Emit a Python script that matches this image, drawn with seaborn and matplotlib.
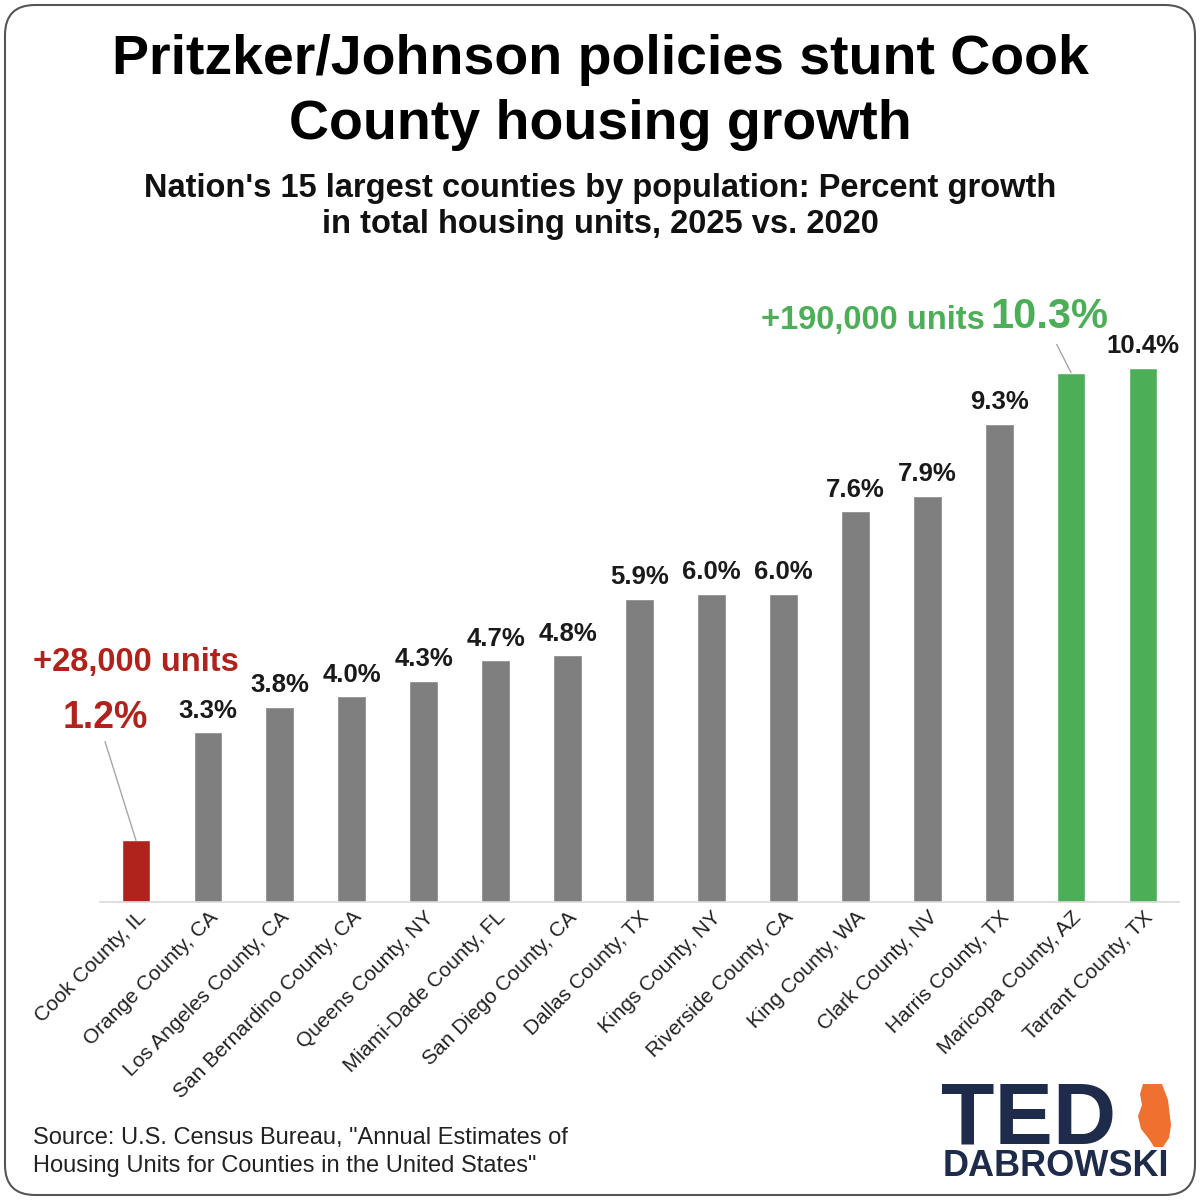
import matplotlib
matplotlib.use("Agg")
import matplotlib.pyplot as plt
from matplotlib.patches import FancyBboxPatch, Polygon
import pandas as pd
import seaborn as sns

counties = ["Cook County, IL", "Orange County, CA", "Los Angeles County, CA",
            "San Bernardino County, CA", "Queens County, NY", "Miami-Dade County, FL",
            "San Diego County, CA", "Dallas County, TX", "Kings County, NY",
            "Riverside County, CA", "King County, WA", "Clark County, NV",
            "Harris County, TX", "Maricopa County, AZ", "Tarrant County, TX"]
growth = [1.2, 3.3, 3.8, 4.0, 4.3, 4.7, 4.8, 5.9, 6.0, 6.0, 7.6, 7.9, 9.3, 10.3, 10.4]
labels = ["1.2%", "3.3%", "3.8%", "4.0%", "4.3%", "4.7%", "4.8%", "5.9%", "6.0%",
          "6.0%", "7.6%", "7.9%", "9.3%", "10.3%", "10.4%"]

RED = "#b0231c"
GRAY = "#7f7f7f"
GREEN = "#4caf58"
colors = [RED] + [GRAY] * 12 + [GREEN, GREEN]

df = pd.DataFrame({"county": counties, "growth": growth})

sns.set_theme(style="white")
plt.rcParams["font.family"] = ["Liberation Sans", "DejaVu Sans"]

fig = plt.figure(figsize=(12, 12), dpi=100)
ax = fig.add_axes([100 / 1200, 1 - 902 / 1200, 1079 / 1200, 591 / 1200])

sns.barplot(data=df, x="county", y="growth", hue="county", palette=colors,
            legend=False, width=0.4, saturation=1, ax=ax)
ax.set_xlim(-0.5, 14.5)
ax.set_ylim(0, 11.5)
ax.set_xlabel("")
ax.set_ylabel("")
ax.set_yticks([])
sns.despine(ax=ax, left=True)
ax.spines["bottom"].set_color("#d9d9d9")
ax.spines["bottom"].set_linewidth(1.2)
ax.tick_params(axis="x", length=0, pad=4)
ax.set_xticks(range(len(counties)))
ax.set_xticklabels(counties, rotation=45, ha="right", rotation_mode="anchor",
                   fontsize=15, color="#222222")

# value labels above the plain bars
for i, (v, lab) in enumerate(zip(growth, labels)):
    if i in (0, 13):
        continue
    ax.annotate(lab, (i, v), xytext=(0, 7), textcoords="offset points",
                ha="center", va="bottom", fontsize=18.5, fontweight="bold",
                color="#1a1a1a")

# Cook County callout
ax.text(0, 4.67, "+28,000 units", ha="center", va="center", fontsize=23.5,
        fontweight="bold", color=RED)
ax.text(-0.43, 3.58, labels[0], ha="center", va="center", fontsize=27,
        fontweight="bold", color=RED)
ax.plot([-0.43, 0.0], [3.12, growth[0]], color="#a6a6a6", lw=1, clip_on=False)

# Maricopa callout
ax.text(10.25, 11.32, "+190,000 units", ha="center", va="center", fontsize=23.5,
        fontweight="bold", color=GREEN, clip_on=False)
ax.text(12.7, 11.38, labels[13], ha="center", va="center", fontsize=30,
        fontweight="bold", color=GREEN, clip_on=False)
ax.plot([12.8, 13.0], [10.85, growth[13]], color="#a6a6a6", lw=1, clip_on=False)

# titles
fig.text(0.5, 1 - 60 / 1200, "Pritzker/Johnson policies stunt Cook", ha="center",
         va="center", fontsize=40, fontweight="bold", color="black")
fig.text(0.5, 1 - 125 / 1200, "County housing growth", ha="center",
         va="center", fontsize=40, fontweight="bold", color="black")
fig.text(0.5, 1 - 188 / 1200, "Nation's 15 largest counties by population: Percent growth",
         ha="center", va="center", fontsize=23.5, fontweight="bold", color="#111111")
fig.text(0.5, 1 - 225 / 1200, "in total housing units, 2025 vs. 2020",
         ha="center", va="center", fontsize=23.5, fontweight="bold", color="#111111")

# source
fig.text(33 / 1200, 1 - 1138 / 1200, "Source: U.S. Census Bureau, \"Annual Estimates of",
         ha="left", va="center", fontsize=17, color="#222222")
fig.text(33 / 1200, 1 - 1166 / 1200, "Housing Units for Counties in the United States\"",
         ha="left", va="center", fontsize=17, color="#222222")

# logo
NAVY = "#1f2b4a"
fig.text(941 / 1200, 1 - 1144 / 1200, "TED", ha="left", va="baseline", fontsize=63,
         fontweight="bold", color=NAVY)
fig.text(943 / 1200, 1 - 1176 / 1200, "DABROWSKI", ha="left", va="baseline",
         fontsize=26, fontweight="bold", color=NAVY)
ill = [(1143, 1084), (1162, 1084), (1168, 1100), (1171, 1125), (1169, 1138),
       (1163, 1147), (1154, 1147), (1149, 1139), (1141, 1129), (1138, 1116),
       (1142, 1105), (1140, 1094)]
fig.patches.append(Polygon([(x / 1200, 1 - y / 1200) for x, y in ill], closed=True,
                           transform=fig.transFigure, facecolor="#f07030",
                           edgecolor="none"))

# rounded frame
fig.patches.append(FancyBboxPatch((5 / 1200, 5 / 1200), 1190 / 1200, 1190 / 1200,
                                  boxstyle="round,pad=0,rounding_size=0.025",
                                  transform=fig.transFigure, facecolor="none",
                                  edgecolor="#555555", lw=1.5))

fig.savefig("out.png", dpi=100, facecolor="white")
